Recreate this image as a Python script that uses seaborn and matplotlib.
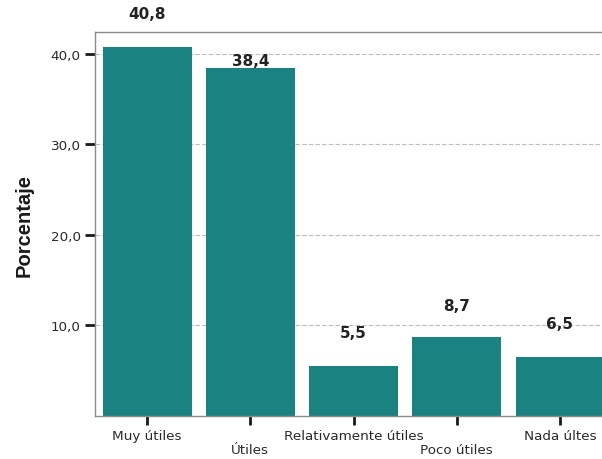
import matplotlib
matplotlib.use('Agg')
import matplotlib.pyplot as plt
import seaborn as sns
import pandas as pd
from matplotlib.ticker import FixedLocator, FuncFormatter

# Datos del gráfico
categorias = ["Muy útiles", "Útiles", "Relativamente útiles", "Poco útiles", "Nada últes"]
porcentajes = [40.8, 38.4, 5.5, 8.7, 6.5]
etiquetas_valor = ["40,8", "38,4", "5,5", "8,7", "6,5"]
# desplazamiento (px) de cada etiqueta sobre su barra
desplazamientos = [33, 8, 34, 32, 34]

df = pd.DataFrame({"categoria": categorias, "porcentaje": porcentajes})

sns.set_style("white")
plt.rcParams['font.family'] = ['DejaVu Sans']

fig = plt.figure(figsize=(6.02, 4.60), dpi=100)
ax = fig.add_axes([0.158, 0.0935, 0.842, 0.8345])

sns.barplot(data=df, x="categoria", y="porcentaje", color="#1b8282",
            saturation=1, width=0.862, linewidth=0, ax=ax)

ax.set_xlim(-0.504, 4.407)
ax.set_ylim(0, 42.4)

# Lineas de cuadricula
ax.yaxis.set_major_locator(FixedLocator([10, 20, 30, 40]))
ax.yaxis.set_major_formatter(FuncFormatter(lambda v, p: f"{v:.1f}".replace('.', ',')))
ax.yaxis.grid(True, linestyle=(0, (4, 2)), color='#bdbdbd', linewidth=0.8)
ax.set_axisbelow(True)

# Etiquetas del eje x escalonadas
etiquetas_x = [c if i % 2 == 0 else "\n" + c for i, c in enumerate(categorias)]
ax.set_xticks(range(len(categorias)))
ax.set_xticklabels(etiquetas_x, fontsize=9.7, color='#2a2a2a', linespacing=1.12)
ax.set_xlabel("")

ax.tick_params(axis='y', left=True, length=7.5, width=2, color='#1a1a1a', labelsize=9.7,
               labelcolor='#2a2a2a', pad=3)
ax.tick_params(axis='x', bottom=True, length=6.5, width=2, color='#1a1a1a', pad=3)

for lado in ['left', 'bottom', 'top']:
    ax.spines[lado].set_color('#8c8c8c')
    ax.spines[lado].set_linewidth(1.0)
ax.spines['right'].set_visible(False)

ax.set_ylabel("Porcentaje", fontsize=14.5, fontweight='bold', color='#1a1a1a',
              family=['Liberation Sans', 'DejaVu Sans'])
ax.yaxis.set_label_coords(-0.122, 0.5)

# Etiquetas de valores
for i, (v, txt) in enumerate(zip(porcentajes, etiquetas_valor)):
    ax.annotate(txt, xy=(i, v), xytext=(0, desplazamientos[i]),
                textcoords='offset pixels', ha='center', va='center',
                fontsize=11, fontweight='bold', color='#222222',
                annotation_clip=False)

fig.savefig("out.png", dpi=100)
